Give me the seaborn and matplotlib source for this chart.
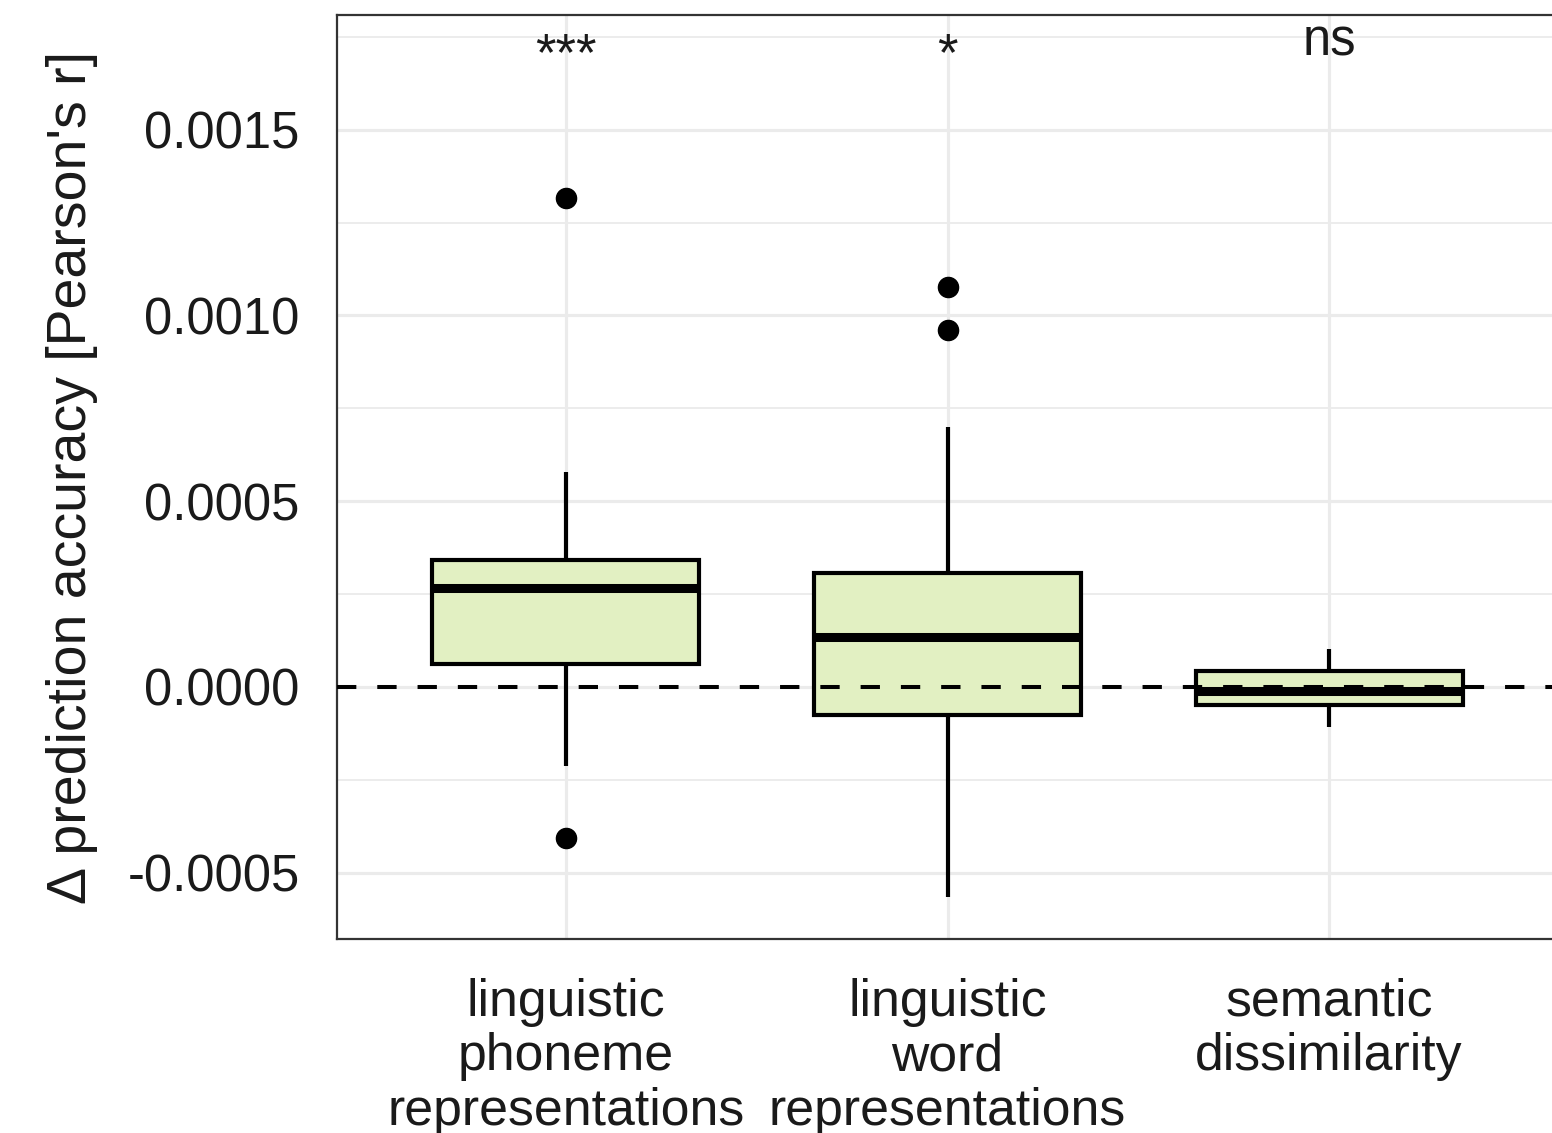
import pandas as pd
import seaborn as sns
import matplotlib.pyplot as plt
from matplotlib.ticker import FixedLocator

# categories shown on the x axis (line breaks as in the figure)
categories = ['linguistic\nphoneme\nrepresentations',
              'linguistic\nword\nrepresentations',
              'semantic\ndissimilarity']

# per-participant deltas, estimated from the box/whisker/outlier positions
phoneme_vals = [-0.000407, -0.000213, -0.000050, 0.000062, 0.000150, 0.000230, 0.000267,
                0.000300, 0.000325, 0.000342, 0.000450, 0.000579, 0.001317]
word_vals = [-0.000565, -0.000300, -0.000150, -0.0000754, 0.000020, 0.000090, 0.000135,
             0.000200, 0.000260, 0.000307, 0.000700, 0.000961, 0.001077]
semantic_vals = [-0.000108, -0.000080, -0.000060, -0.0000485, -0.000030, -0.000020, -0.0000108,
                 0.000010, 0.000030, 0.0000431, 0.000070, 0.000090, 0.000102]

sig_labels = ['***', '*', 'ns']
major_ticks = [-0.0005, 0.0000, 0.0005, 0.0010, 0.0015]
minor_ticks = [-0.00025, 0.00025, 0.00075, 0.00125, 0.00175]

df = pd.DataFrame({
    'group': [categories[0]] * len(phoneme_vals) + [categories[1]] * len(word_vals)
             + [categories[2]] * len(semantic_vals),
    'delta': phoneme_vals + word_vals + semantic_vals,
})

sns.set_style('white')
plt.rcParams['font.family'] = ['Liberation Sans', 'DejaVu Sans']

fig = plt.figure(figsize=(15.52, 11.33), dpi=100)
ax = fig.add_axes([337 / 1552, 1 - 939 / 1133, 1221 / 1552, 924 / 1133])

sns.boxplot(data=df, x='group', y='delta', ax=ax, order=categories,
            width=0.7, color='#E2F0C2', saturation=1, linecolor='black', linewidth=3.0,
            whis=1.5,
            medianprops={'linewidth': 6.5, 'color': 'black'},
            capprops={'visible': False},
            flierprops={'marker': 'o', 'markersize': 14.5, 'markerfacecolor': 'black',
                        'markeredgecolor': 'black'})

# theme_bw-like grid (seaborn turns the categorical grid off, so set it after)
ax.set_axisbelow(True)
ax.yaxis.set_major_locator(FixedLocator(major_ticks))
ax.yaxis.set_minor_locator(FixedLocator(minor_ticks))
ax.grid(which='major', axis='both', color='#EBEBEB', linewidth=2.3)
ax.grid(which='minor', axis='y', color='#EBEBEB', linewidth=1.3)

ax.axhline(0, color='black', linewidth=2.9, linestyle=(0, (4.8, 5.2)), zorder=5)

ax.set_xlim(-0.6, 2.6)
ax.set_ylim(-0.000679, 0.001809)

ax.set_yticklabels([f'{t:.4f}' for t in major_ticks])
ax.tick_params(axis='both', which='major', labelsize=36.5, length=9, width=1.6,
               color='#333333', labelcolor='#1a1a1a')
ax.tick_params(axis='x', which='major', labelsize=37.3, pad=19)
ax.tick_params(axis='y', which='major', pad=18)
ax.tick_params(axis='y', which='minor', length=0)
for lbl in ax.get_xticklabels():
    lbl.set_linespacing(1.14)

for spine in ax.spines.values():
    spine.set_color('#333333')
    spine.set_linewidth(1.6)

ax.set_xlabel('')
ax.set_ylabel("\u0394 prediction accuracy [Pearson's r]", fontsize=40, color='#1a1a1a')
ax.yaxis.set_label_coords(-0.196, 0.5)

# significance markers above each box
for i, lab in enumerate(sig_labels):
    if lab == 'ns':
        ax.text(i, 0.001699, lab, ha='center', va='baseline', fontsize=36.5, color='#1a1a1a')
    else:
        ax.text(i, 0.001662, lab, ha='center', va='baseline', fontsize=38, color='#1a1a1a')

fig.savefig('out.png', dpi=100)
